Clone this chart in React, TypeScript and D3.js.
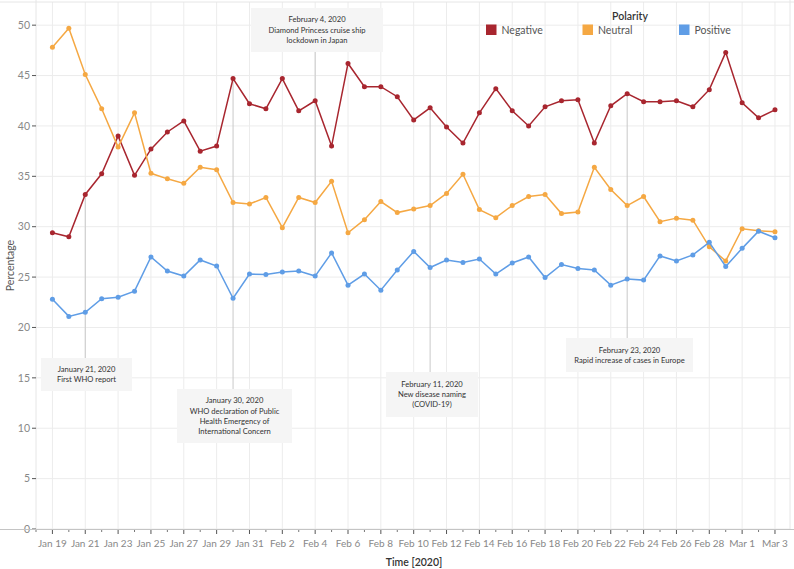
import React from "react";
import * as d3 from "d3";

const dates = [
  "2020-01-19","2020-01-20","2020-01-21","2020-01-22","2020-01-23","2020-01-24","2020-01-25","2020-01-26","2020-01-27","2020-01-28","2020-01-29","2020-01-30","2020-01-31",
  "2020-02-01","2020-02-02","2020-02-03","2020-02-04","2020-02-05","2020-02-06","2020-02-07","2020-02-08","2020-02-09","2020-02-10",
  "2020-02-11","2020-02-12","2020-02-13","2020-02-14","2020-02-15","2020-02-16","2020-02-17","2020-02-18","2020-02-19","2020-02-20",
  "2020-02-21","2020-02-22","2020-02-23","2020-02-24","2020-02-25","2020-02-26","2020-02-27","2020-02-28","2020-02-29",
  "2020-03-01","2020-03-02","2020-03-03",
];

const negative = [
  29.4, 29.0, 33.2, 35.25, 39.0, 35.1, 37.7, 39.4, 40.5, 37.5, 38.0, 44.7, 42.2,
  41.7, 44.7, 41.5, 42.5, 38.0, 46.2, 43.9, 43.9, 42.9, 40.6,
  41.8, 39.9, 38.3, 41.3, 43.7, 41.5, 40.0, 41.9, 42.5, 42.6,
  38.3, 42.0, 43.2, 42.4, 42.4, 42.5, 41.9, 43.6, 47.3,
  42.3, 40.8, 41.6,
];
const neutral = [
  47.8, 49.7, 45.1, 41.7, 37.9, 41.3, 35.3, 34.75, 34.3, 35.9, 35.65, 32.4, 32.25,
  32.9, 29.9, 32.9, 32.4, 34.5, 29.4, 30.7, 32.5, 31.4, 31.75,
  32.1, 33.3, 35.2, 31.7, 30.9, 32.1, 33.0, 33.2, 31.3, 31.45,
  35.9, 33.7, 32.1, 33.0, 30.5, 30.85, 30.65, 28.0, 26.6,
  29.8, 29.6, 29.5,
];
const positive = [
  22.8, 21.1, 21.5, 22.85, 23.0, 23.6, 27.0, 25.6, 25.1, 26.7, 26.1, 22.9, 25.3,
  25.25, 25.5, 25.6, 25.1, 27.4, 24.2, 25.3, 23.7, 25.7, 27.55,
  25.95, 26.7, 26.45, 26.8, 25.3, 26.4, 27.0, 24.95, 26.25, 25.85,
  25.7, 24.2, 24.8, 24.7, 27.1, 26.6, 27.2, 28.45, 26.05,
  27.85, 29.55, 28.9,
];

const seriesNames = ["Negative", "Neutral", "Positive"];
const seriesColors = ["#a8262f", "#f5a843", "#5f9de6"];
const yTicks = [0, 5, 10, 15, 20, 25, 30, 35, 40, 45, 50];

const annotationDates = ["2020-01-21", "2020-01-30", "2020-02-04", "2020-02-11", "2020-02-23"];
const annotationTexts = [
  ["January 21, 2020", "First WHO report"],
  ["January 30, 2020", "WHO declaration of Public", "Health Emergency of", "International Concern"],
  ["February 4, 2020", "Diamond Princess cruise ship", "lockdown in Japan"],
  ["February 11, 2020", "New disease naming", "(COVID-19)"],
  ["February 23, 2020", "Rapid increase of cases in Europe"],
];
// layout of annotation boxes
const annotationBoxes = [
  { x0: 41, y0: 358, x1: 132, y1: 391, above: false },
  { x0: 177, y0: 389, x1: 292, y1: 443, above: false },
  { x0: 251, y0: 8, x1: 383, y1: 52, above: true },
  { x0: 386, y0: 372, x1: 478, y1: 417, above: false },
  { x0: 566, y0: 338, x1: 693, y1: 372, above: false },
];

const W = 794, H = 569;
const left = 36, right = 790, top = 2, bottom = 529;
const FONT = "Lato, 'Open Sans', sans-serif";

export default function App() {
  const parse = d3.timeParse("%Y-%m-%d");
  const dts = dates.map((d) => parse(d) as Date);
  const x = d3.scaleTime()
    .domain([new Date(2020, 0, 18), new Date(2020, 2, 4)])
    .range([left, 791.4]);
  const y = d3.scaleLinear().domain([0, 52.2]).range([bottom, top + 1]);

  const allSeries = [negative, neutral, positive];
  const line = d3.line<number>()
    .x((_, i) => x(dts[i]))
    .y((v) => y(v));

  const majorDates = dts.filter((_, i) => i % 2 === 0);
  const minorDates = [new Date(2020, 0, 18), ...dts.filter((_, i) => i % 2 === 1)];
  const fmt = d3.timeFormat("%b %-d");

  return (
    <svg width={W} height={H} style={{ position: "absolute", left: 0, top: 0, background: "#fff" }}
      fontFamily={FONT}>
      {yTicks.map((t) => (
        <line key={"gy" + t} x1={left} x2={right} y1={y(t)} y2={y(t)} stroke="#ececec" strokeWidth={1} />
      ))}
      {majorDates.map((d, i) => (
        <line key={"gx" + i} x1={x(d)} x2={x(d)} y1={top} y2={bottom} stroke="#ececec" strokeWidth={1} />
      ))}
      <line x1={0} x2={W} y1={top} y2={top} stroke="#e6e6e6" />
      <line x1={left} x2={left} y1={0} y2={bottom} stroke="#e6e6e6" />
      <line x1={right} x2={right} y1={0} y2={bottom} stroke="#e6e6e6" />

      {annotationDates.map((ds, i) => {
        const idx = dates.indexOf(ds);
        const xx = x(dts[idx]);
        const b = annotationBoxes[i];
        const ya = b.above ? b.y1 : y(negative[idx]);
        const yb = b.above ? y(positive[idx]) : b.y0;
        return <line key={"al" + i} x1={xx} x2={xx} y1={ya} y2={yb} stroke="#c9c9c9" strokeWidth={1} />;
      })}

      {annotationBoxes.map((b, i) => {
        const cx = (b.x0 + b.x1) / 2;
        const lines = annotationTexts[i];
        const lh = 10.2;
        const midY = (b.y0 + b.y1) / 2;
        const startY = midY - ((lines.length - 1) * lh) / 2;
        return (
          <g key={"ab" + i}>
            <rect x={b.x0} y={b.y0} width={b.x1 - b.x0} height={b.y1 - b.y0} fill="#f5f5f5" />
            {lines.map((t, j) => (
              <text key={j} x={cx} y={startY + j * lh} dy="0.35em" textAnchor="middle" fontSize={7.6}
                fill="#333">{t}</text>
            ))}
          </g>
        );
      })}

      {allSeries.map((s, k) => (
        <g key={"s" + k}>
          <path d={line(s) || ""} fill="none" stroke={seriesColors[k]} strokeWidth={1.5} />
          {s.map((v, i) => (
            <circle key={i} cx={x(dts[i])} cy={y(v)} r={2.5} fill={seriesColors[k]} />
          ))}
        </g>
      ))}

      {yTicks.map((t) => (
        <g key={"yt" + t}>
          <line x1={32} x2={36} y1={y(t)} y2={y(t)} stroke="#555" />
          <text x={30} y={y(t)} dy="0.35em" textAnchor="end" fontSize={10.5} fill="#888">{t}</text>
        </g>
      ))}
      <text transform={`translate(10,${(top + bottom) / 2}) rotate(-90)`} textAnchor="middle" dy="0.35em"
        fontSize={10.5} fill="#555">Percentage</text>

      <line x1={0} x2={W} y1={bottom + 0.5} y2={bottom + 0.5} stroke="#c4c4c4" />
      {majorDates.map((d, i) => (
        <g key={"xt" + i}>
          <line x1={x(d)} x2={x(d)} y1={bottom + 1} y2={bottom + 5} stroke="#555" />
          <text x={x(d)} y={543} dy="0.35em" textAnchor="middle" fontSize={10} fill="#888">{fmt(d)}</text>
        </g>
      ))}
      {minorDates.map((d, i) => (
        <line key={"xm" + i} x1={x(d)} x2={x(d)} y1={bottom + 1} y2={bottom + 3} stroke="#777" />
      ))}
      <text x={414} y={562.5} dy="0.35em" textAnchor="middle" fontSize={10.5} fill="#333" fontWeight={600}>Time [2020]</text>

      <text x={630} y={16} dy="0.35em" textAnchor="middle" fontSize={10.5} fill="#333" fontWeight={600}>Polarity</text>
      {seriesNames.map((n, k) => {
        const sx = [486, 582.5, 679][k];
        return (
          <g key={"lg" + k}>
            <rect x={sx} y={24.5} width={10.5} height={10.5} fill={seriesColors[k]} />
            <text x={sx + 15.5} y={30.5} dy="0.35em" fontSize={10.5} fill="#555">{n}</text>
          </g>
        );
      })}
    </svg>
  );
}
